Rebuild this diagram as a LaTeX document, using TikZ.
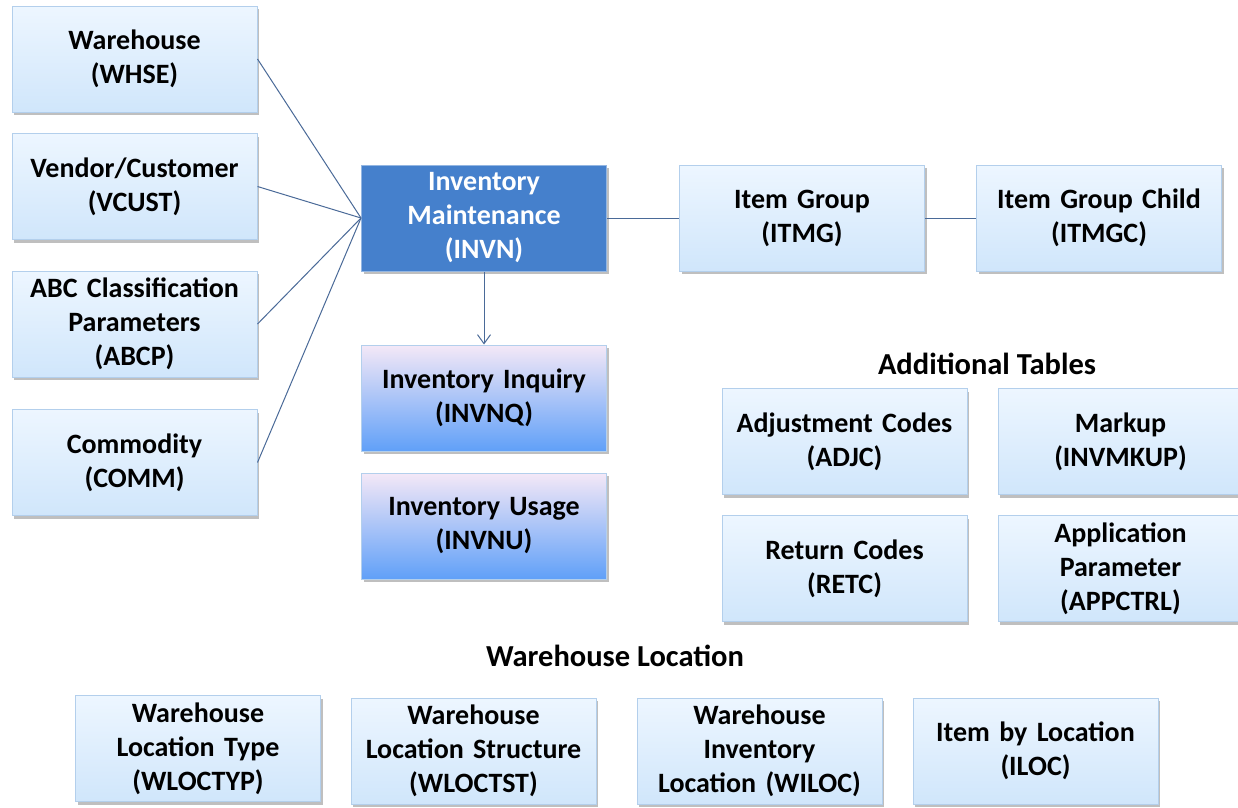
\documentclass[tikz,border=0pt]{standalone}
\usepackage{fontspec}
\setmainfont{Carlito}
\usetikzlibrary{shadows,arrows.meta}
\definecolor{boxtop}{HTML}{EDF6FF}
\definecolor{boxbot}{HTML}{D0E6FB}
\definecolor{boxline}{HTML}{B3CFEC}
\definecolor{mainfill}{HTML}{4580CC}
\definecolor{mainline}{HTML}{93B6E2}
\definecolor{qtop}{HTML}{F4E8F7}
\definecolor{qmid}{HTML}{ADD3F9}
\definecolor{qbot}{HTML}{60A0F8}
\definecolor{linkc}{HTML}{4A6A98}
\tikzset{
  boxshadow/.style={drop shadow={shadow xshift=2pt,shadow yshift=-3pt,fill=black,opacity=0.25}},
  basebox/.style={rectangle,line width=1pt,
    minimum width=245pt,minimum height=106pt,inner sep=2pt,align=center,text width=240pt,
    font=\fontsize{28}{34}\selectfont\bfseries,boxshadow},
  tablebox/.style={basebox,draw=boxline,top color=boxtop,bottom color=boxbot},
  mainbox/.style={basebox,fill=mainfill,draw=mainline,text=white},
  inqbox/.style={basebox,draw=boxline,top color=qtop,middle color=qmid,bottom color=qbot},
  grouptitle/.style={font=\fontsize{30.5}{36}\selectfont\bfseries,inner sep=0pt},
  link/.style={draw=linkc,line width=1pt}
}
\begin{document}
\begin{tikzpicture}[x=1pt,y=-1pt]
\useasboundingbox (0,0) rectangle (1238,807);
\clip (0,0) rectangle (1238,807);
\fill[white] (0,0) rectangle (1238,807);

% source tables on the left
\node[tablebox] (whse)  at (134.5,59)    {Warehouse\\(WHSE)};
\node[tablebox] (vcust) at (134.5,186.5) {Vendor/Customer\\(VCUST)};
\node[tablebox] (abcp)  at (134.5,324)   {ABC Classification\\Parameters\\(ABCP)};
\node[tablebox] (comm)  at (134.5,462.5) {Commodity\\(COMM)};

% central program and its inquiries
\node[mainbox] (invn)  at (484,218) {Inventory\\Maintenance\\(INVN)};
\node[inqbox]  (invnq) at (484,398)   {Inventory Inquiry\\(INVNQ)};
\node[inqbox]  (invnu) at (484,526)   {Inventory Usage\\(INVNU)};

% item groups
\node[tablebox] (itmg)  at (802,218)  {Item Group\\(ITMG)};
\node[tablebox] (itmgc) at (1099,218) {Item Group Child\\(ITMGC)};

% additional tables
\node[grouptitle] (addt) at (987,364) {Additional Tables};
\node[tablebox] (adjc)    at (844.5,441.5)  {Adjustment Codes\\(ADJC)};
\node[tablebox] (invmkup) at (1120.5,441.5) {Markup\\(INVMKUP)};
\node[tablebox] (retc)    at (844.5,568.5)  {Return Codes\\(RETC)};
\node[tablebox] (appctrl) at (1120.5,568.5) {Application\\Parameter\\(APPCTRL)};

% warehouse location tables
\node[grouptitle] (wloc) at (615,656) {Warehouse Location};
\node[tablebox] (wloctyp) at (198,748.5)  {Warehouse\\Location Type\\(WLOCTYP)};
\node[tablebox] (wloctst) at (473.5,751)  {Warehouse\\Location Structure\\(WLOCTST)};
\node[tablebox] (wiloc)   at (759.5,751)  {Warehouse\\Inventory\\Location (WILOC)};
\node[tablebox] (iloc)    at (1035.5,751) {Item by Location\\(ILOC)};

% connectors
\draw[link] (whse.east)  -- (invn.west);
\draw[link] (vcust.east) -- (invn.west);
\draw[link] (abcp.east)  -- (invn.west);
\draw[link] (comm.east)  -- (invn.west);
\draw[link] (invn.east)  -- (itmg.west);
\draw[link] (itmg.east)  -- (itmgc.west);
\draw[link,-{Straight Barb[length=9pt,width=13pt]}] (invn.south) -- (invnq.north);
\end{tikzpicture}
\end{document}
